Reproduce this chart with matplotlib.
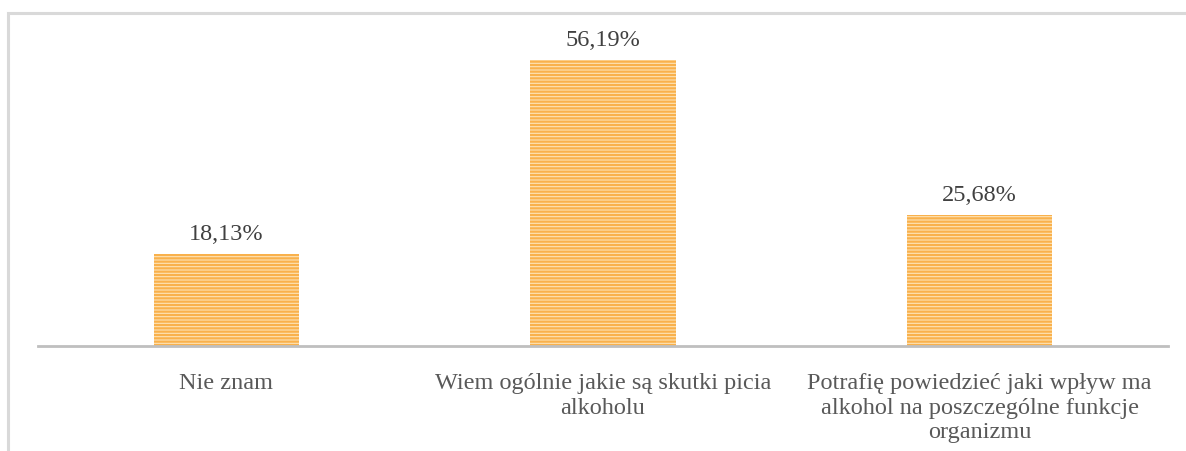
import matplotlib.pyplot as plt
from matplotlib.patches import Rectangle

# data
categories = [
    "Nie znam",
    "Wiem ogólnie jakie są skutki picia\nalkoholu",
    "Potrafię powiedzieć jaki wpływ ma\nalkohol na poszczególne funkcje\norganizmu",
]
values = [18.13, 56.19, 25.68]
value_labels = ["18,13%", "56,19%", "25,68%"]

plt.rcParams['font.family'] = ['Liberation Serif', 'DejaVu Serif']
plt.rcParams['hatch.linewidth'] = 1.6

fig = plt.figure(figsize=(11.86, 4.52), dpi=100)
ax = fig.add_axes([38 / 1186, 105 / 452, 1130 / 1186, 305.4 / 452])

# outer chart frame (right and bottom run off the picture)
fig.patches.append(Rectangle((8 / 1186, -0.1), 1.2, (452 - 14) / 452 + 0.1,
                             transform=fig.transFigure, fill=False,
                             edgecolor='#D9D9D9', linewidth=2.2))

x = range(len(categories))
bars = ax.bar(x, values, width=0.385, color='#FEE3B6', edgecolor='#F9B14C',
              linewidth=0, hatch='-----')

for b, lab in zip(bars, value_labels):
    ax.text(b.get_x() + b.get_width() / 2, b.get_height() + 2.0, lab,
            ha='center', va='bottom', fontsize=17.5, color='#404040')

ax.set_xlim(-0.5, 2.5)
ax.set_ylim(0, 60)
ax.set_xticks(list(x))
ax.set_xticklabels(categories, fontsize=17.5, color='#595959', linespacing=1.2)
ax.tick_params(axis='x', length=0, pad=19)
ax.set_yticks([])
for s in ['top', 'right', 'left']:
    ax.spines[s].set_visible(False)
ax.spines['bottom'].set_color('#BFBFBF')
ax.spines['bottom'].set_linewidth(2)

fig.savefig('out.png', dpi=100)
